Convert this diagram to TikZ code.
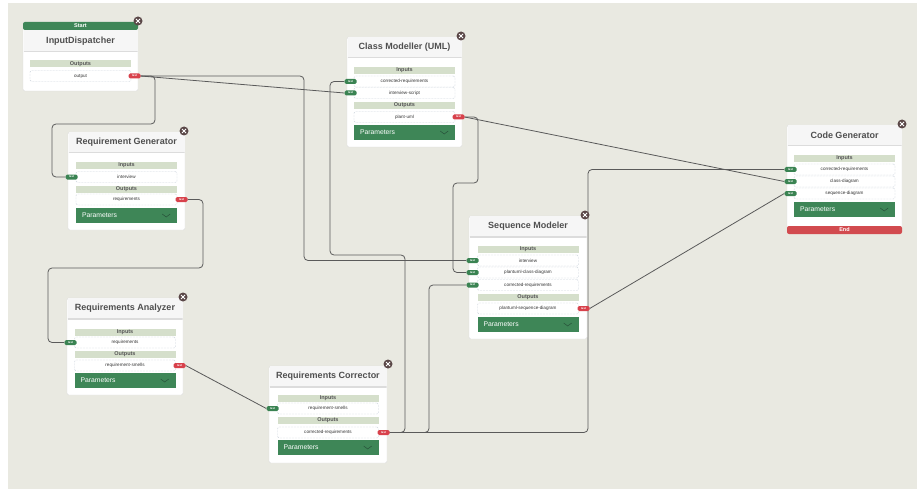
\documentclass[tikz,border=0pt]{standalone}
\usepackage{fontspec}
\setmainfont{Liberation Sans}

\definecolor{canvas}{HTML}{E9E9E1}
\definecolor{cardedge}{HTML}{DCDCDC}
\definecolor{titlebg}{HTML}{F6F6F6}
\definecolor{titletext}{HTML}{4F4F4F}
\definecolor{bandgreen}{HTML}{D5DFCB}
\definecolor{bandtext}{HTML}{555555}
\definecolor{slotedge}{HTML}{CFD6DE}
\definecolor{paramgreen}{HTML}{3E8657}
\definecolor{portgreen}{HTML}{3A8352}
\definecolor{portred}{HTML}{D8414B}
\definecolor{endred}{HTML}{D24B4F}
\definecolor{closebrown}{HTML}{5B4848}
\definecolor{chevron}{HTML}{27513A}
\definecolor{wire}{HTML}{5A5A5A}

\pgfdeclarelayer{ground}
\pgfdeclarelayer{wires}
\pgfsetlayers{ground,wires,main}

\tikzset{
	card/.style={draw=cardedge, fill=white, rounded corners=2pt, inner sep=0pt},
	titlebar/.style={fill=titlebg, inner sep=0pt, minimum height=21pt,
		text=titletext, font=\fontsize{9}{10}\selectfont\bfseries,
		path picture={
			\draw[cardedge, line width=1.2pt]
				(path picture bounding box.south west) -- (path picture bounding box.south east);
		}},
	band/.style={fill=bandgreen, inner sep=0pt, minimum width=101pt, minimum height=7pt,
		text=bandtext, font=\fontsize{5.5}{6}\selectfont\bfseries},
	slot/.style={draw=slotedge, dash pattern=on 2pt off 1pt, fill=white, rounded corners=1.5pt,
		inner sep=0pt, minimum width=101pt, minimum height=11pt,
		text=black!80, font=\fontsize{4.6}{5}\selectfont},
	params/.style={fill=paramgreen, inner xsep=6pt, inner ysep=0pt, text width=89pt,
		minimum height=15pt, align=left, text=white, font=\fontsize{6.8}{7}\selectfont},
	inport/.style={fill=portgreen, rounded corners=1.5pt, inner sep=0pt, minimum width=12pt,
		minimum height=5pt, text=white, font=\fontsize{2.8}{3}\selectfont\bfseries},
	outport/.style={inport, fill=portred},
	endband/.style={fill=#1, rounded corners=2pt, inner sep=0pt, minimum height=8pt,
		text=white, font=\fontsize{5.5}{6}\selectfont\bfseries},
	closebtn/.style={circle, fill=closebrown, minimum size=9pt, inner sep=0pt,
		path picture={
			\draw[white, line width=0.8pt]
				([shift={(-2pt,-2pt)}]path picture bounding box.center) -- ++(4pt,4pt)
				([shift={(-2pt,2pt)}]path picture bounding box.center) -- ++(4pt,-4pt);
		}},
	chev/.style={draw=chevron, line width=0.5pt},
	wire/.style={draw=wire, line width=0.8pt, rounded corners=4pt},
}

\begin{document}
\begin{tikzpicture}[x=1pt, y=-1pt]
	\useasboundingbox (0,0) rectangle (917,489);
	\begin{pgfonlayer}{ground}
		\fill[canvas] (8,3) rectangle (917,489);
	\end{pgfonlayer}

	% input dispatcher
	\node[card, minimum width=115pt, minimum height=69pt] (id) at (80.5,56.5) {};
	\node[endband=paramgreen, minimum width=115pt] (id-start) at (80.5,26) {Start};
	\node[titlebar, minimum width=114pt] (id-title) at (80.5,41) {InputDispatcher};
	\node[band] (id-outs) at (80.5,64) {Outputs};
	\node[slot] (id-o1) at (80.5,76) {output};
	\node[outport] (id-out) at (134.5,76) {text};
	\node[closebtn] (id-x) at (138,21) {};

	% class modeller
	\node[card, minimum width=115pt, minimum height=110pt] (cm) at (404.5,92) {};
	\node[titlebar, minimum width=114pt] (cm-title) at (404.5,47.5) {Class Modeller (UML)};
	\node[band] (cm-ins) at (404.5,70.5) {Inputs};
	\node[slot] (cm-i1) at (404.5,81.5) {corrected-requirements};
	\node[slot] (cm-i2) at (404.5,93) {interview-script};
	\node[band] (cm-outs) at (404.5,105.5) {Outputs};
	\node[slot] (cm-o1) at (404.5,117) {plant-uml};
	\node[params] (cm-par) at (404.5,132.5) {Parameters};
	\draw[chev] ([xshift=-15pt,yshift=1.5pt]cm-par.east) -- ++(4pt,-3pt) -- ++(4pt,3pt);
	\node[inport] (cm-in1) at (350.5,81.5) {text};
	\node[inport] (cm-in2) at (350.5,93) {text};
	\node[outport] (cm-out) at (458.5,117) {text};
	\node[closebtn] (cm-x) at (461,36) {};

	% requirement generator
	\node[card, minimum width=117pt, minimum height=98pt] (rg) at (126.5,181) {};
	\node[titlebar, minimum width=116pt] (rg-title) at (126.5,142.5) {Requirement Generator};
	\node[band] (rg-ins) at (126.5,165.5) {Inputs};
	\node[slot] (rg-i1) at (126.5,177) {interview};
	\node[band] (rg-outs) at (126.5,189) {Outputs};
	\node[slot] (rg-o1) at (126.5,199.5) {requirements};
	\node[params] (rg-par) at (126.5,215.5) {Parameters};
	\draw[chev] ([xshift=-15pt,yshift=1.5pt]rg-par.east) -- ++(4pt,-3pt) -- ++(4pt,3pt);
	\node[inport] (rg-in) at (71.5,177) {text};
	\node[outport] (rg-out) at (181.5,199.5) {text};
	\node[closebtn] (rg-x) at (184,131) {};

	% code generator
	\node[card, minimum width=115pt, minimum height=107pt] (cg) at (844.5,178.5) {};
	\node[titlebar, minimum width=114pt] (cg-title) at (844.5,135.5) {Code Generator};
	\node[band] (cg-ins) at (844.5,158.5) {Inputs};
	\node[slot] (cg-i1) at (844.5,169.5) {corrected-requirements};
	\node[slot] (cg-i2) at (844.5,181.5) {class-diagram};
	\node[slot] (cg-i3) at (844.5,193.5) {sequence-diagram};
	\node[params] (cg-par) at (844.5,209.5) {Parameters};
	\draw[chev] ([xshift=-15pt,yshift=1.5pt]cg-par.east) -- ++(4pt,-3pt) -- ++(4pt,3pt);
	\node[endband=endred, minimum width=115pt] (cg-end) at (844.5,230) {End};
	\node[inport] (cg-in1) at (790.5,169.5) {text};
	\node[inport] (cg-in2) at (790.5,181.5) {text};
	\node[inport] (cg-in3) at (790.5,193.5) {text};
	\node[closebtn] (cg-x) at (902,124) {};

	% sequence modeler
	\node[card, minimum width=118pt, minimum height=123pt] (sm) at (528,277.5) {};
	\node[titlebar, minimum width=117pt] (sm-title) at (528,226.5) {Sequence Modeler};
	\node[band] (sm-ins) at (528,249.5) {Inputs};
	\node[slot] (sm-i1) at (528,260.5) {interview};
	\node[slot] (sm-i2) at (528,272.5) {plantuml-class-diagram};
	\node[slot] (sm-i3) at (528,285) {corrected-requirements};
	\node[band] (sm-outs) at (528,297.5) {Outputs};
	\node[slot] (sm-o1) at (528,308.5) {plantuml-sequence-diagram};
	\node[params] (sm-par) at (528,324.5) {Parameters};
	\draw[chev] ([xshift=-15pt,yshift=1.5pt]sm-par.east) -- ++(4pt,-3pt) -- ++(4pt,3pt);
	\node[inport] (sm-in1) at (472.5,260.5) {text};
	\node[inport] (sm-in2) at (472.5,272.5) {text};
	\node[inport] (sm-in3) at (472.5,285) {text};
	\node[outport] (sm-out) at (583.5,308.5) {text};
	\node[closebtn] (sm-x) at (585,215) {};

	% requirements analyzer
	\node[card, minimum width=116pt, minimum height=97pt] (ra) at (125,346.5) {};
	\node[titlebar, minimum width=115pt] (ra-title) at (125,308.5) {Requirements Analyzer};
	\node[band] (ra-ins) at (125,332) {Inputs};
	\node[slot] (ra-i1) at (125,342.5) {requirements};
	\node[band] (ra-outs) at (125,354.5) {Outputs};
	\node[slot] (ra-o1) at (125,365.5) {requirement-smells};
	\node[params] (ra-par) at (125,380.5) {Parameters};
	\draw[chev] ([xshift=-15pt,yshift=1.5pt]ra-par.east) -- ++(4pt,-3pt) -- ++(4pt,3pt);
	\node[inport] (ra-in) at (70.5,342.5) {text};
	\node[outport] (ra-out) at (179.5,365.5) {text};
	\node[closebtn] (ra-x) at (183,297) {};

	% requirements corrector
	\node[card, minimum width=118pt, minimum height=97pt] (rc) at (328,414.5) {};
	\node[titlebar, minimum width=117pt] (rc-title) at (328,376.5) {Requirements Corrector};
	\node[band] (rc-ins) at (328,398) {Inputs};
	\node[slot] (rc-i1) at (328,408.5) {requirement-smells};
	\node[band] (rc-outs) at (328,420.5) {Outputs};
	\node[slot] (rc-o1) at (328,432.5) {corrected-requirements};
	\node[params] (rc-par) at (328,447.5) {Parameters};
	\draw[chev] ([xshift=-15pt,yshift=1.5pt]rc-par.east) -- ++(4pt,-3pt) -- ++(4pt,3pt);
	\node[inport] (rc-in) at (272.5,408.5) {text};
	\node[outport] (rc-out) at (383.5,432.5) {text};
	\node[closebtn] (rc-x) at (388,364) {};

	% connections
	\begin{pgfonlayer}{wires}
		\draw[wire] (id-out.east) -| (155,124) -| (52,150) |- (rg-in.west);
		\draw[wire] (id-out.east) -| (304,200) |- (sm-in1.west);
		\draw[wire] (id-out.east) -- (cm-in2.west);
		\draw[wire] (rg-out.east) -| (203,268) -| (48,300) |- (ra-in.west);
		\draw[wire] (ra-out.east) -- (rc-in.west);
		\draw[wire] (rc-out.east) -| (405,255) -| (330,150) |- (cm-in1.west);
		\draw[wire] (rc-out.east) -| (429,350) |- (sm-in3.west);
		\draw[wire] (rc-out.east) -| (588,300) |- (cg-in1.west);
		\draw[wire] (cm-out.east) -| (478,183) -| (453,230) |- (sm-in2.west);
		\draw[wire] (cm-out.east) -- (cg-in2.west);
		\draw[wire] (sm-out.east) -- (cg-in3.west);
	\end{pgfonlayer}
\end{tikzpicture}
\end{document}
